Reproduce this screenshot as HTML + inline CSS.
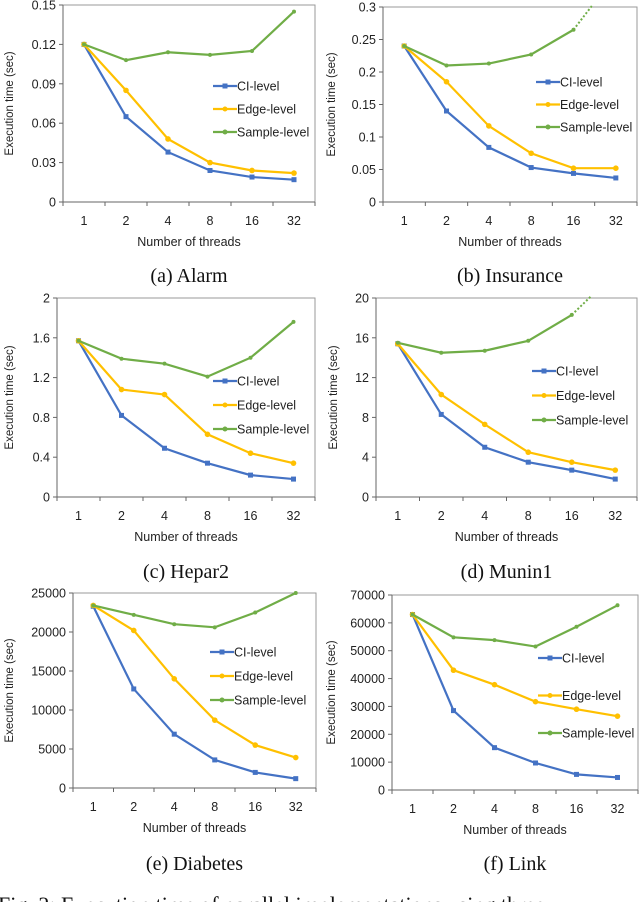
<!DOCTYPE html>
<html><head><meta charset="utf-8"><style>
body{margin:0;background:#fff;width:640px;height:902px;overflow:hidden;font-family:"Liberation Sans",sans-serif}
svg{position:absolute;left:0;top:0}
</style></head><body>
<svg id="s" width="640" height="902"></svg>
<script>
const categories=["1","2","4","8","16","32"];
const aCI=[0.12,0.065,0.038,0.024,0.019,0.017];
const aEdge=[0.12,0.085,0.048,0.030,0.024,0.022];
const aSample=[0.12,0.108,0.114,0.112,0.115,0.145];
const aTicks=["0","0.03","0.06","0.09","0.12","0.15"];
const bCI=[0.24,0.14,0.084,0.053,0.044,0.037];
const bEdge=[0.24,0.185,0.117,0.075,0.052,0.052];
const bSample=[0.24,0.21,0.213,0.227,0.265];
const bTicks=["0","0.05","0.1","0.15","0.2","0.25","0.3"];
const cCI=[1.57,0.82,0.49,0.34,0.22,0.18];
const cEdge=[1.57,1.08,1.03,0.63,0.44,0.34];
const cSample=[1.57,1.39,1.34,1.21,1.4,1.76];
const cTicks=["0","0.4","0.8","1.2","1.6","2"];
const dCI=[15.4,8.3,5.0,3.5,2.7,1.8];
const dEdge=[15.4,10.3,7.3,4.5,3.5,2.7];
const dSample=[15.5,14.5,14.7,15.7,18.3];
const dTicks=["0","4","8","12","16","20"];
const eCI=[23300,12700,6900,3600,2000,1200];
const eEdge=[23400,20200,14000,8700,5500,3900];
const eSample=[23400,22200,21000,20600,22500,25000];
const eTicks=["0","5000","10000","15000","20000","25000"];
const fCI=[63000,28500,15200,9700,5600,4500];
const fEdge=[63000,43000,37800,31700,29000,26500];
const fSample=[63000,54800,53800,51500,58600,66300];
const fTicks=["0","10000","20000","30000","40000","50000","60000","70000"];

const S=document.getElementById('s');const NS="http://www.w3.org/2000/svg";
function el(t,a,p){const e=document.createElementNS(NS,t);for(const k in a)e.setAttribute(k,a[k]);(p||S).appendChild(e);return e;}
const COL={ci:"#4472C4",edge:"#FFC000",sample:"#70AD47"};
function chart(id,L,R,T,B,ticks,ci,edge,sample,dotted,leg,caption,capY,titleOff){
  const g=el('g',{});
  
  
  const max=parseFloat(ticks[ticks.length-1]);
  const n=categories.length,w=(R-L)/n;
  const x=i=>L+w*(i+0.5);
  const y=v=>B-(v/max)*(B-T);
  const frame=el('rect',{x:L,y:T,width:R-L,height:B-T,fill:'none',stroke:'#999','stroke-width':1},g);
  
  el('line',{x1:L,x2:R,y1:B,y2:B,stroke:'#666'},g);
  el('line',{x1:L,x2:L,y1:T,y2:B,stroke:'#666'},g);
  ticks.forEach((t,i)=>{const v=parseFloat(t);
    el('line',{x1:L-4,x2:L,y1:y(v),y2:y(v),stroke:'#666'},g);
    const tx=el('text',{x:L-7,y:y(v)+4.5,'text-anchor':'end','font-size':12.5,fill:'#222'},g);tx.textContent=t;
    });
  for(let i=0;i<=n;i++)el('line',{x1:L+w*i,x2:L+w*i,y1:B,y2:B+4,stroke:'#666'},g);
  categories.forEach((c,i)=>{const tx=el('text',{x:x(i),y:B+23,'text-anchor':'middle','font-size':12.5,fill:'#222'},g);tx.textContent=c;
    });
  const xt=el('text',{x:(L+R)/2,y:B+44,'text-anchor':'middle','font-size':12.5,fill:'#222'},g);xt.textContent="Number of threads";
  
  const yt=el('text',{x:0,y:0,'text-anchor':'middle','font-size':11.5,fill:'#222',transform:`translate(${L-titleOff},${(T+B)/2}) rotate(-90)`},g);yt.textContent="Execution time (sec)";
  
  const ser=[["ci",ci,"CI-level"],["edge",edge,"Edge-level"],["sample",sample,"Sample-level"]];
  ser.forEach(([k,d])=>{
    const p=el('polyline',{points:d.map((v,i)=>x(i)+','+y(v)).join(' '),fill:'none',stroke:COL[k],'stroke-width':2.2},g);
    
    d.forEach((v,i)=>{const m=k=="ci"?el('rect',{x:x(i)-2.5,y:y(v)-2.5,width:5,height:5,fill:COL[k]},g):el('circle',{cx:x(i),cy:y(v),r:k=="edge"?2.8:2,fill:COL[k]},g);
      });
  });
  if(dotted){const i=sample.length-1;const d=el('line',{x1:x(i),y1:y(sample[i]),x2:x(i)+w*0.45,y2:T-2,stroke:COL.sample,'stroke-width':2,'stroke-dasharray':'2,2'},g);
    }
  ser.forEach(([k,,name],j)=>{const ly=leg[1]+leg[2]*j;
    const lg=el('g',{},g);
    el('line',{x1:leg[0],x2:leg[0]+24,y1:ly,y2:ly,stroke:COL[k],'stroke-width':2.2},lg);
    if(k=="ci")el('rect',{x:leg[0]+9.5,y:ly-2.5,width:5,height:5,fill:COL[k]},lg);else el('circle',{cx:leg[0]+12,cy:ly,r:2.5,fill:COL[k]},lg);
    const t=el('text',{x:leg[0]+24,y:ly+4.5,'font-size':12.5,fill:'#222'},lg);t.textContent=name;});
  const cp=el('text',{x:(L+R)/2,y:capY,'text-anchor':'middle','font-size':20,'font-family':'"Liberation Serif",serif',fill:'#111'},g);cp.textContent=caption;
  
}
chart('a',63,315,5,202,aTicks,aCI,aEdge,aSample,false,[213,86,23],"(a)  Alarm",282,50);
chart('b',383,637,7,202,bTicks,bCI,bEdge,bSample,true,[536,82,22.5],"(b)  Insurance",282,48);
chart('c',57,315,298,497,cTicks,cCI,cEdge,cSample,false,[213,381,24],"(c)  Hepar2",578,44);
chart('d',376,637,298,497,dTicks,dCI,dEdge,dSample,true,[532,371,24.5],"(d)  Munin1",578,39);
chart('e',73,316,593,788,eTicks,eCI,eEdge,eSample,false,[210,652,24],"(e)  Diabetes",870,60);
chart('f',392,638,595,790,fTicks,fCI,fEdge,fSample,false,[538,658,37.5],"(f)  Link",870,57);
const fc=el('text',{x:-2,y:912,'font-size':22,'font-family':'"Liberation Serif",serif',fill:'#111'});
fc.textContent="Fig. 2: Execution time of parallel implementations using three";


</script>
</body></html>
